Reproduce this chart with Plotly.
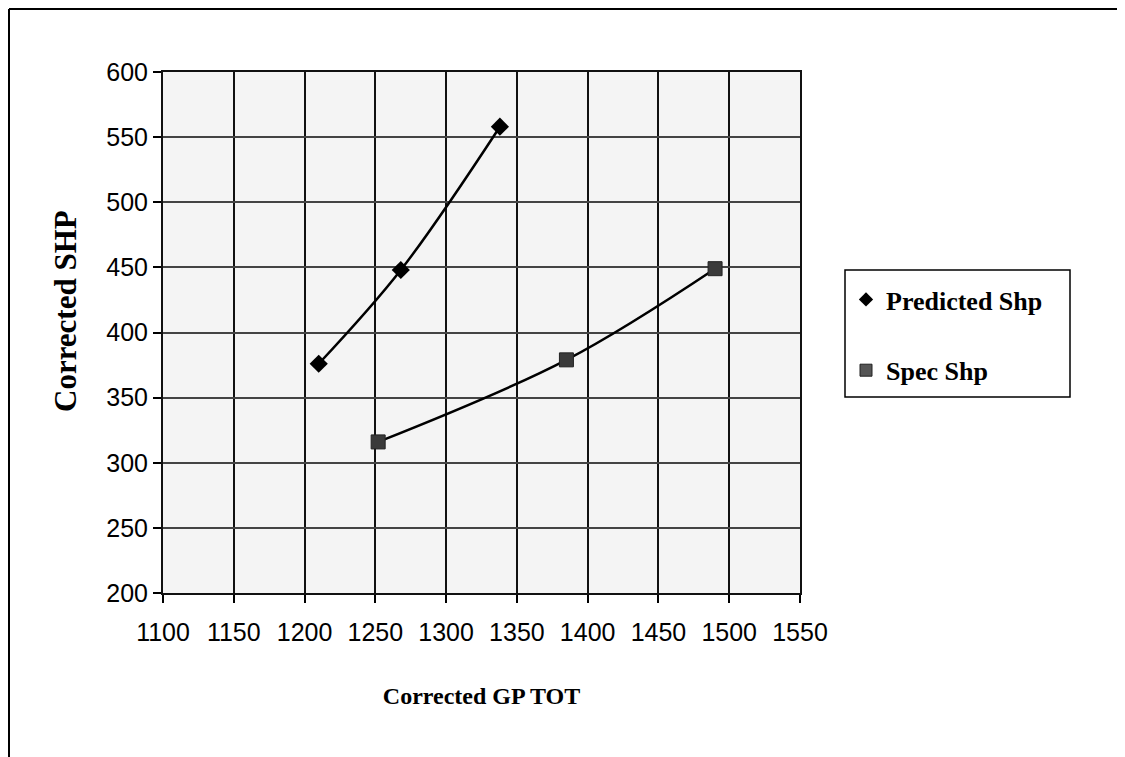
import plotly.graph_objects as go

# Data
predicted_x = [1210, 1268, 1338]
predicted_y = [376, 448, 558]
spec_x = [1252, 1385, 1490]
spec_y = [316, 379, 449]

x_ticks = [1100, 1150, 1200, 1250, 1300, 1350, 1400, 1450, 1500, 1550]
y_ticks = [200, 250, 300, 350, 400, 450, 500, 550, 600]

# page body has an 8px margin; work in page coordinates and offset
OFF = 8
W, H = 1125 - OFF, 757 - OFF
L, R, T, B = 163, 800, 72, 593
pw, ph = R - L, B - T

def px(xp):
    return (xp - L) / pw

def py(yp):
    return (B - yp) / ph

fig = go.Figure()

fig.add_trace(go.Scatter(
    x=predicted_x, y=predicted_y, mode="lines+markers",
    line=dict(color="black", width=2.5, shape="spline"),
    marker=dict(symbol="diamond", size=14, color="black"),
    showlegend=False, name="Predicted Shp"))
fig.add_trace(go.Scatter(
    x=spec_x, y=spec_y, mode="lines+markers",
    line=dict(color="black", width=2.5, shape="spline"),
    marker=dict(symbol="square", size=14, color="#3a3a3a",
                line=dict(color="#222", width=1)),
    showlegend=False, name="Spec Shp"))

# legend entries (marker only, as in the reference)
fig.add_trace(go.Scatter(
    x=[None], y=[None], mode="markers", name="Predicted Shp",
    marker=dict(symbol="diamond", size=11, color="black"),
    legendgroup="a"))
fig.add_trace(go.Scatter(
    x=[None], y=[None], mode="markers", name="Spec Shp",
    marker=dict(symbol="square", size=12, color="#555",
                line=dict(color="#222", width=1)),
    legendgroup="b"))

shapes = [
    # legend box
    dict(type="rect", xref="paper", yref="paper",
         x0=px(845), x1=px(1070), y0=py(397), y1=py(270),
         line=dict(color="black", width=1.5), fillcolor="white", layer="below"),
    # outer page border (top and left)
    dict(type="line", xref="paper", yref="paper",
         x0=px(OFF + 1), x1=px(1125), y0=py(9), y1=py(9),
         line=dict(color="black", width=2)),
    dict(type="line", xref="paper", yref="paper",
         x0=px(OFF + 1), x1=px(OFF + 1), y0=py(9), y1=py(757),
         line=dict(color="black", width=2)),
]

annotations = [
    dict(text="Corrected SHP", xref="paper", yref="paper",
         x=px(65), y=py(311), xanchor="center", yanchor="middle",
         textangle=-90, showarrow=False,
         font=dict(family="Liberation Serif", size=31, color="black", weight="bold")),
]

fig.update_layout(
    width=W, height=H,
    margin=dict(l=L - OFF, r=W + OFF - R, t=T - OFF, b=H + OFF - B),
    paper_bgcolor="white",
    plot_bgcolor="#f4f4f4",
    shapes=shapes,
    annotations=annotations,
    legend=dict(
        x=px(846), y=py(335), xanchor="left", yanchor="middle",
        bgcolor="rgba(0,0,0,0)", borderwidth=0,
        tracegroupgap=34,
        font=dict(family="Liberation Serif", size=26, color="black", weight="bold"),
    ),
    font=dict(family="Liberation Sans", color="black"),
)

fig.update_xaxes(
    range=[1100, 1550], tickvals=x_ticks, ticktext=[str(v) for v in x_ticks],
    showgrid=True, gridcolor="#111", gridwidth=2,
    showline=True, linecolor="#111", linewidth=2, mirror=True,
    ticks="outside", ticklen=8, tickwidth=1.5, tickcolor="black",
    tickfont=dict(family="Liberation Sans", size=25, color="black"),
    ticklabelstandoff=8,
    zeroline=False,
    title=dict(text="Corrected GP TOT", standoff=42,
               font=dict(family="Liberation Serif", size=24, color="black", weight="bold")),
)
fig.update_yaxes(
    range=[200, 600], tickvals=y_ticks, ticktext=[str(v) for v in y_ticks],
    showgrid=True, gridcolor="#444", gridwidth=1.5,
    showline=True, linecolor="#111", linewidth=2, mirror=True,
    ticks="outside", ticklen=8, tickwidth=1.5, tickcolor="black",
    tickfont=dict(family="Liberation Sans", size=25, color="black"),
    zeroline=False,
)

fig.write_html("out.html")
